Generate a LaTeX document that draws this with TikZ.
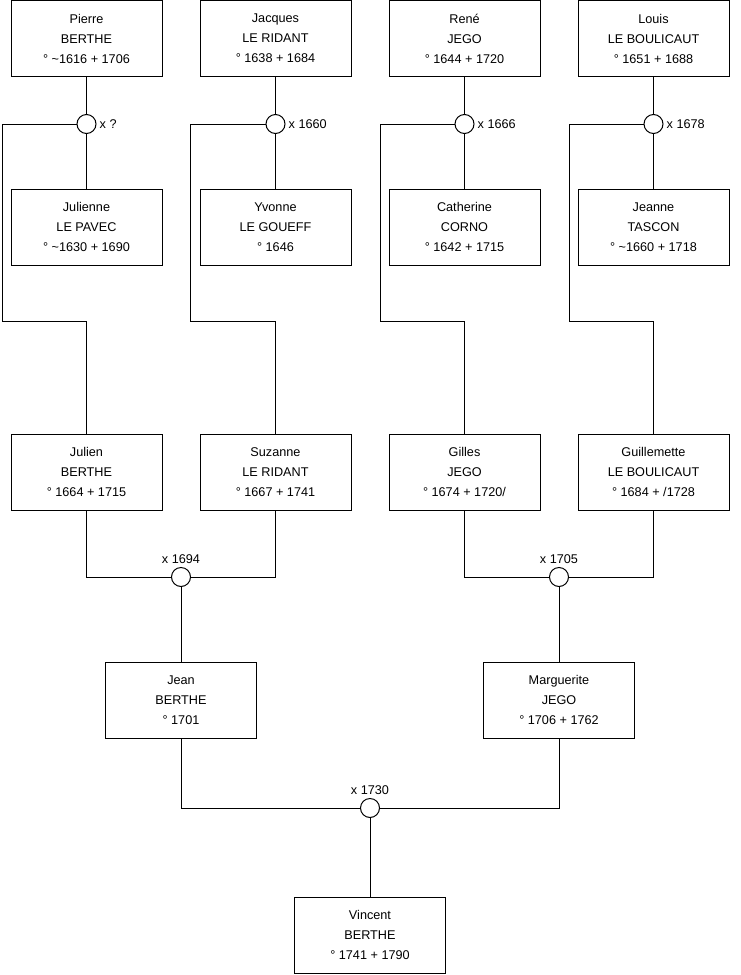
\documentclass[tikz,border=0pt]{standalone}
\usepackage{fontspec}
\setmainfont{Liberation Sans}
\newcommand{\tld}{\textasciitilde}

\begin{document}
\begin{tikzpicture}[x=0.75pt,y=-0.75pt,line width=0.75pt,
    person/.style={draw, fill=white, minimum width=113.25pt, minimum height=57pt, inner sep=0pt, align=center, font=\fontsize{9.5}{15}\selectfont},
    wedding/.style={circle, draw, fill=white, minimum size=14.25pt, inner sep=0pt},
    wdate/.style={inner sep=2pt, font=\fontsize{9.5}{11}\selectfont}]
        \useasboundingbox (0,0) rectangle (740,975);
        % top row: husbands, wives, children
        \node[person] (pierre) at (86.5,38.5) {Pierre\\BERTHE\\° \tld1616 + 1706}; \node[person] (jacques) at (275.5,38.5) {Jacques\\LE RIDANT\\° 1638 + 1684}; \node[person] (rene) at (464.5,38.5) {René\\JEGO\\° 1644 + 1720}; \node[person] (louis) at (653.5,38.5) {Louis\\LE BOULICAUT\\° 1651 + 1688};
        \node[person] (julienne) at (86.5,227) {Julienne\\LE PAVEC\\° \tld1630 + 1690}; \node[person] (yvonne) at (275.5,227) {Yvonne\\LE GOUEFF\\° 1646}; \node[person] (catherine) at (464.5,227) {Catherine\\CORNO\\° 1642 + 1715}; \node[person] (jeanne) at (653.5,227) {Jeanne\\TASCON\\° \tld1660 + 1718};
        \node[person] (julien) at (86.5,472) {Julien\\BERTHE\\° 1664 + 1715}; \node[person] (suzanne) at (275.5,472) {Suzanne\\LE RIDANT\\° 1667 + 1741}; \node[person] (gilles) at (464.5,472) {Gilles\\JEGO\\° 1674 + 1720/}; \node[person] (guillemette) at (653.5,472) {Guillemette\\LE BOULICAUT\\° 1684 + /1728};
        \node[person] (jean) at (181,700) {Jean\\BERTHE\\° 1701}; \node[person] (marguerite) at (559,700) {Marguerite\\JEGO\\° 1706 + 1762};
        \node[person] (vincent) at (370,935) {Vincent\\BERTHE\\° 1741 + 1790};
        % marriages
        \node[wedding] (m1) at (86.5,124) {}; \node[wedding] (m2) at (275.5,124) {}; \node[wedding] (m3) at (464.5,124) {}; \node[wedding] (m4) at (653.5,124) {};
        \node[wedding] (m5) at (181,577) {}; \node[wedding] (m6) at (559,577) {}; \node[wedding] (m7) at (370,808) {};
        \node[wdate, anchor=west] (d1) at (m1.east) {x ?}; \node[wdate, anchor=west] (d2) at (m2.east) {x 1660}; \node[wdate, anchor=west] (d3) at (m3.east) {x 1666}; \node[wdate, anchor=west] (d4) at (m4.east) {x 1678};
        \node[wdate, anchor=south] (d5) at (m5.north) {x 1694}; \node[wdate, anchor=south] (d6) at (m6.north) {x 1705}; \node[wdate, anchor=south] (d7) at (m7.north) {x 1730};
        % bends of the child lines
        \coordinate (b1) at (2,124); \coordinate (b1d) at (2,321); \coordinate (b2) at (190,124); \coordinate (b2d) at (190,321); \coordinate (b3) at (380,124); \coordinate (b3d) at (380,321); \coordinate (b4) at (569,124); \coordinate (b4d) at (569,321);
        \draw (pierre) -- (m1) -- (julienne); \draw (jacques) -- (m2) -- (yvonne); \draw (rene) -- (m3) -- (catherine); \draw (louis) -- (m4) -- (jeanne);
        \draw (m1) -- (b1) -- (b1d) -| (julien); \draw (m2) -- (b2) -- (b2d) -| (suzanne); \draw (m3) -- (b3) -- (b3d) -| (gilles); \draw (m4) -- (b4) -- (b4d) -| (guillemette);
        \draw (julien) |- (m5) -| (suzanne); \draw (gilles) |- (m6) -| (guillemette);
        \draw (m5) -- (jean); \draw (m6) -- (marguerite);
        \draw (jean) |- (m7) -| (marguerite); \draw (m7) -- (vincent);
\end{tikzpicture}
\end{document}
